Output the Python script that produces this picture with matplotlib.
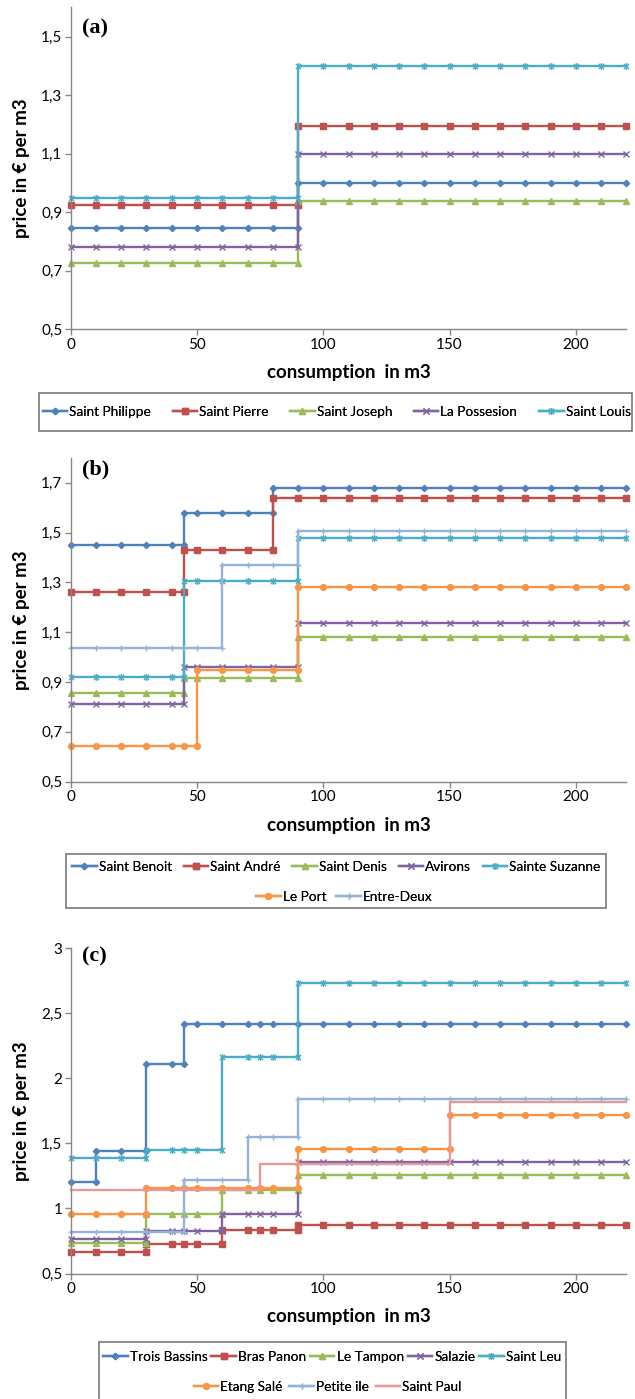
import matplotlib
matplotlib.use("Agg")
import matplotlib.pyplot as plt
from matplotlib.path import Path
from matplotlib.lines import Line2D
from matplotlib.patches import Rectangle

# ---- data: step breaks (m3) and price levels (EUR/m3) ----
a_names = ["Saint Philippe", "Saint Pierre", "Saint Joseph", "La Possesion", "Saint Louis"]
a_breaks = [[90], [90], [90], [90], [90]]
a_prices = [[0.845, 1.00], [0.925, 1.195], [0.725, 0.94], [0.78, 1.10], [0.95, 1.40]]

b_names = ["Saint Benoit", "Saint André", "Saint Denis", "Avirons", "Sainte Suzanne",
           "Le Port", "Entre-Deux"]
b_breaks = [[45, 80], [45, 80], [45, 90], [45, 90], [45, 90], [50, 90], [60, 90]]
b_prices = [[1.45, 1.58, 1.68], [1.26, 1.43, 1.64], [0.855, 0.915, 1.08],
            [0.81, 0.96, 1.135], [0.92, 1.305, 1.48], [0.645, 0.95, 1.28],
            [1.035, 1.37, 1.505]]

c_names = ["Trois Bassins", "Bras Panon", "Le Tampon", "Salazie", "Saint Leu",
           "Etang Salé", "Petite ile", "Saint Paul"]
c_breaks = [[10, 30, 45], [30, 60, 90], [30, 60, 90], [30, 60, 90], [30, 60, 90],
            [30, 90, 150], [45, 70, 90], [75, 150]]
c_prices = [[1.20, 1.445, 2.11, 2.42], [0.665, 0.73, 0.835, 0.875],
            [0.735, 0.96, 1.14, 1.26], [0.765, 0.83, 0.96, 1.36],
            [1.39, 1.45, 2.165, 2.73], [0.96, 1.16, 1.455, 1.72],
            [0.82, 1.22, 1.55, 1.845], [1.14, 1.345, 1.82]]

a_yticks = [0.5, 0.7, 0.9, 1.1, 1.3, 1.5]
a_ylabels = ["0,5", "0,7", "0,9", "1,1", "1,3", "1,5"]
b_yticks = [0.5, 0.7, 0.9, 1.1, 1.3, 1.5, 1.7]
b_ylabels = ["0,5", "0,7", "0,9", "1,1", "1,3", "1,5", "1,7"]
c_yticks = [0.5, 1.0, 1.5, 2.0, 2.5, 3.0]
c_ylabels = ["0,5", "1", "1,5", "2", "2,5", "3"]
xticks = [0, 50, 100, 150, 200]
sample_x = list(range(0, 221, 10))   # Excel data points every 10 m3

# ---- styles ----
W, H = 635, 1399
star = Path([(0, -1), (0, 1), (-0.75, -0.75), (0.75, 0.75), (-0.75, 0.75), (0.75, -0.75)],
            [Path.MOVETO, Path.LINETO] * 3)
styles = [("#4F81BD", "D", 3.2), ("#C0504D", "s", 3.8), ("#9BBB59", "^", 4.2),
          ("#8064A2", "x", 4.0), ("#4BACC6", star, 5.0), ("#F79646", "o", 4.2),
          ("#95B3D7", "+", 5.0), ("#E6999A", None, 0)]
axis_grey = "#868686"
plt.rcParams["font.family"] = ["Lato", "DejaVu Sans"]


def step_points(grid, breaks, prices):
    xs, ys = [], []
    for x in grid:
        n = sum(b < x for b in breaks)
        if x in breaks:
            xs += [x, x]
            ys += [prices[n], prices[n + 1]]
        else:
            xs.append(x)
            ys.append(prices[n])
    return xs, ys


def px_rect(left, top, right, bottom):
    return [left / W, 1 - bottom / H, (right - left) / W, (bottom - top) / H]


def draw_panel(fig, rect, names, breaks, prices, ylim, yticks, ylabels, tag, tag_y):
    ax = fig.add_axes(rect)
    grid = sorted(set(sample_x) | {b for br in breaks for b in br})
    for i, name in enumerate(names):
        color, marker, ms = styles[i]
        xs, ys = step_points(grid, breaks[i], prices[i])
        ax.plot(xs, ys, color=color, lw=1.7, marker=marker, ms=ms,
                mew=1.0, label=name, clip_on=False)
    ax.set_xlim(0, 220)
    ax.set_ylim(*ylim)
    ax.set_xticks(xticks)
    ax.set_yticks(yticks)
    ax.set_yticklabels(ylabels)
    for s in ["top", "right"]:
        ax.spines[s].set_visible(False)
    for s in ["left", "bottom"]:
        ax.spines[s].set_color(axis_grey)
        ax.spines[s].set_linewidth(1.0)
    ax.tick_params(direction="out", length=4, width=1.0, color=axis_grey,
                   labelsize=11, pad=2)
    ax.set_xlabel("consumption  in m3", fontsize=13.5, fontweight="bold", labelpad=9)
    ax.set_ylabel("price in € per m3", fontsize=13.5, fontweight="bold", labelpad=8)
    fig.text(82 / W, 1 - tag_y / H, tag, family=["Liberation Serif", "DejaVu Serif"],
             fontsize=16, fontweight="bold", va="center", ha="left")
    return ax


def handles_for(names, idx):
    hs = []
    for i in idx:
        color, marker, ms = styles[i]
        hs.append(Line2D([], [], color=color, lw=1.7, marker=marker, ms=ms, mew=1.0,
                         label=names[i]))
    return hs


def draw_legend(fig, names, rows, spans, box):
    x0, y0, x1, y1 = box
    fig.add_artist(Rectangle((x0 / W, 1 - y1 / H), (x1 - x0) / W, (y1 - y0) / H,
                             transform=fig.transFigure, fill=False,
                             ec="#6e6e6e", lw=1.1))
    for idx, (left, right, cy) in zip(rows, spans):
        leg = fig.legend(handles=handles_for(names, idx), loc="center",
                         bbox_to_anchor=(left / W, 1 - cy / H, (right - left) / W, 0),
                         mode="expand", ncol=len(idx),
                         frameon=False, fontsize=9.8, handlelength=1.8,
                         handletextpad=0.15, columnspacing=0.3,
                         borderpad=0, borderaxespad=0, numpoints=1)
        fig.add_artist(leg)


fig = plt.figure(figsize=(W / 100, H / 100), dpi=100)

draw_panel(fig, px_rect(70.7, 7.4, 626.4, 329.3), a_names, a_breaks, a_prices,
           (0.5, 1.6), a_yticks, a_ylabels, "(a)", 28)
draw_legend(fig, a_names, [range(5)], [(42.5, 630.6, 411.5)], (39, 393, 632, 431))

draw_panel(fig, px_rect(70.7, 457.8, 626.4, 781.7), b_names, b_breaks, b_prices,
           (0.5, 1.8), b_yticks, b_ylabels, "(b)", 469)
draw_legend(fig, b_names, [range(5), range(5, 7)],
            [(72, 600.6, 866.7), (256, 432.6, 896.7)], (66, 854, 606, 908))

draw_panel(fig, px_rect(70.7, 948.3, 626.4, 1273.5), c_names, c_breaks, c_prices,
           (0.5, 3.0), c_yticks, c_ylabels, "(c)", 956)
draw_legend(fig, c_names, [range(5), range(5, 8)],
            [(103, 561, 1356.7), (193.6, 461.7, 1386.7)], (99, 1342, 566, 1405))

fig.savefig("out.png", dpi=100)
